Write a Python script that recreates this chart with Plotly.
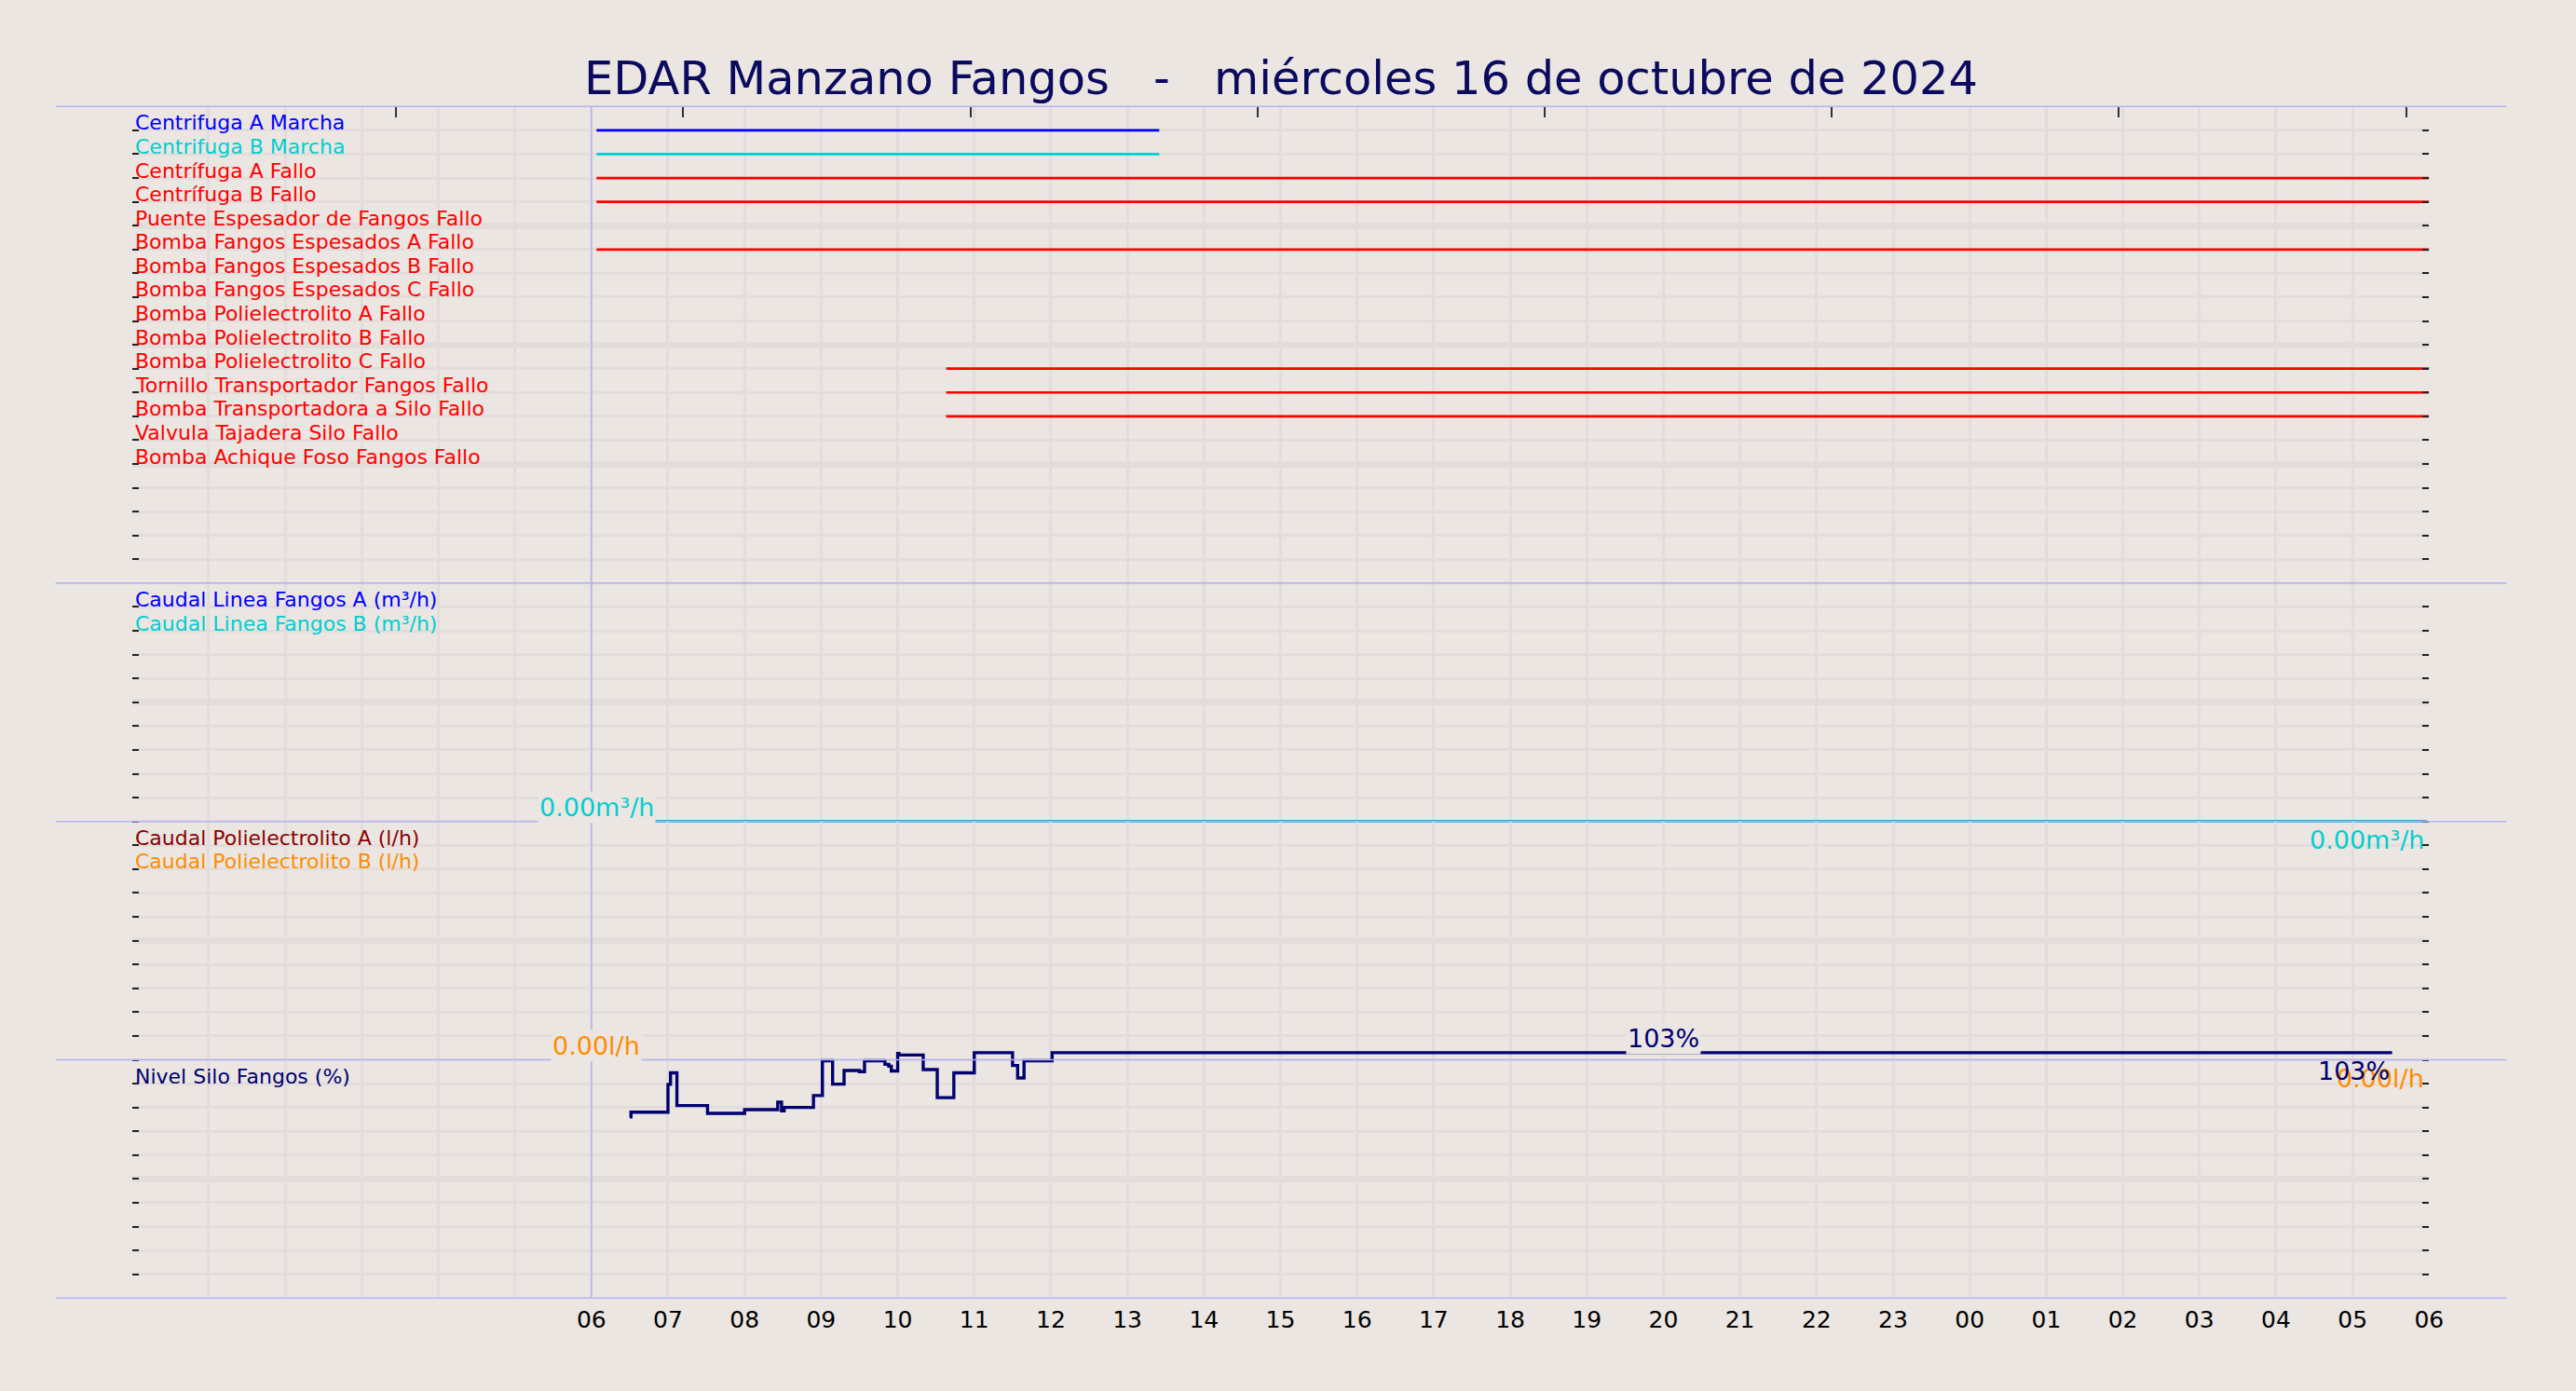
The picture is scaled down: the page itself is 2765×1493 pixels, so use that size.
import pandas as pd
import plotly.graph_objects as go

# ---- data -------------------------------------------------------------
TITLE = "EDAR Manzano Fangos   -   miércoles 16 de octubre de 2024"
DAY = "2024-10-16"
NEXT = "2024-10-17"
T_START = DAY + " 00:00"
T_END = NEXT + " 06:00"

digital_names = [
    "Centrifuga A Marcha", "Centrifuga B Marcha", "Centrífuga A Fallo", "Centrífuga B Fallo",
    "Puente Espesador de Fangos Fallo", "Bomba Fangos Espesados A Fallo",
    "Bomba Fangos Espesados B Fallo", "Bomba Fangos Espesados C Fallo",
    "Bomba Polielectrolito A Fallo", "Bomba Polielectrolito B Fallo",
    "Bomba Polielectrolito C Fallo", "Tornillo Transportador Fangos Fallo",
    "Bomba Transportadora a Silo Fallo", "Valvula Tajadera Silo Fallo",
    "Bomba Achique Foso Fangos Fallo",
]
digital_colors = ["#0000FF", "#00CED1"] + ["#FF0000"] * 13
digital_on = [DAY + " 06:04", DAY + " 06:04", DAY + " 06:04", DAY + " 06:04", None,
              DAY + " 06:04", None, None, None, None,
              DAY + " 10:38", DAY + " 10:38", DAY + " 10:38", None, None]
digital_off = [DAY + " 13:25", DAY + " 13:25", NEXT + " 06:00", NEXT + " 06:00", None,
               NEXT + " 06:00", None, None, None, None,
               NEXT + " 06:00", NEXT + " 06:00", NEXT + " 06:00", None, None]

flow_names = ["Caudal Linea Fangos A (m³/h)", "Caudal Linea Fangos B (m³/h)"]
flow_colors = ["#0000FF", "#00CED1"]
flow_time = [DAY + " 06:04", NEXT + " 05:58"]
flow_a = [0.0, 0.0]
flow_b = [0.0, 0.0]

poly_names = ["Caudal Polielectrolito A (l/h)", "Caudal Polielectrolito B (l/h)"]
poly_colors = ["#8B0000", "#FF8C00"]
poly_time = [DAY + " 06:04", NEXT + " 05:58"]
poly_a = [0.0, 0.0]
poly_b = [0.0, 0.0]

level_name = "Nivel Silo Fangos (%)"
level_color = "#000070"
level_time = [DAY + " " + t for t in [
    "06:30", "06:31", "07:00", "07:02", "07:07", "07:31", "08:00", "08:26", "08:29",
    "08:31", "08:54", "09:01", "09:09", "09:18", "09:30", "09:34", "09:50", "09:53",
    "09:55", "10:00", "10:01", "10:20", "10:31", "10:44", "11:00", "11:30", "11:34",
    "11:39", "12:01", "20:00"]] + [NEXT + " 05:31"]
level_val = [76.0, 78.0, 89.7, 94.5, 80.8, 77.5, 79.1, 82.2, 78.6,
             80.0, 85.0, 99.6, 89.8, 95.5, 95.0, 99.6, 98.1, 97.3,
             95.3, 102.7, 102.0, 95.9, 84.1, 94.5, 103.0, 97.6, 92.4,
             99.6, 103.0, 103.0, 103.0]
level_label_time = DAY + " 20:00"

# ---- look -------------------------------------------------------------
W, H = 2765, 1493
BG = "#EBE6E1"
GRID = "#E2DDDB"
LAV = "#B4B4F4"
TITLE_C = "#0A0A5F"
FONT = "DejaVu Sans"

X0, X1 = 142.5 / W, 2622.5 / W
TOP, UNIT = 114.3, 25.58
edges = [TOP, TOP + 20 * UNIT, TOP + 30 * UNIT, TOP + 40 * UNIT, TOP + 50 * UNIT]


def fy(px):
    return 1 - px / H


hours = pd.date_range(T_START, T_END, freq="h")
hour_text = [h.strftime("%H") if h >= pd.Timestamp(DAY + " 06:00") else "" for h in hours]

fig = go.Figure()

# panel 1: digital signals, one row each
for i, (name, col, t0, t1) in enumerate(zip(digital_names, digital_colors, digital_on, digital_off)):
    if t0 is None:
        continue
    fig.add_trace(go.Scatter(x=[t0, t1], y=[i + 1, i + 1], mode="lines", xaxis="x", yaxis="y",
                             line=dict(color=col, width=2.7), hoverinfo="skip", showlegend=False))

# panel 2 / 3: flows
for ys, col in zip([flow_a, flow_b], flow_colors):
    fig.add_trace(go.Scatter(x=flow_time, y=ys, mode="lines", xaxis="x2", yaxis="y2",
                             line=dict(color=col, width=2.2), hoverinfo="skip", showlegend=False))
for ys, col in zip([poly_a, poly_b], poly_colors):
    fig.add_trace(go.Scatter(x=poly_time, y=ys, mode="lines", xaxis="x3", yaxis="y3",
                             line=dict(color=col, width=2.2), hoverinfo="skip", showlegend=False))

# panel 4: silo level
fig.add_trace(go.Scatter(x=level_time, y=level_val, mode="lines", line_shape="hv",
                         xaxis="x4", yaxis="y4", line=dict(color=level_color, width=3.4),
                         hoverinfo="skip", showlegend=False))

# ---- axes -------------------------------------------------------------
xcommon = dict(type="date", range=[T_START, T_END], domain=[X0, X1], tickvals=hours,
               ticktext=hour_text, showgrid=True, gridcolor=GRID, gridwidth=3, ticks="",
               zeroline=False, showline=False, showticklabels=False)
tick_style = dict(ticks="inside", ticklen=7, tickwidth=2, tickcolor="#222222")


def yax(lo_px, hi_px, rng, majors, minor):
    return dict(domain=[fy(hi_px), fy(lo_px)], range=rng, tickmode="array", tickvals=majors,
                showgrid=True, gridcolor=GRID, gridwidth=7, zeroline=False, showline=False,
                showticklabels=False, mirror="ticks", **tick_style,
                minor=dict(dtick=minor, tick0=0, showgrid=True, gridcolor=GRID, gridwidth=3,
                           **tick_style))


# panel 2, 3 reach a little below their bottom row so the zero lines are not clipped;
# panel 4 reaches above 100 % so the 103 % line shows
PAD2 = 0.25
PAD4 = 5.0
fig.update_layout(
    xaxis=dict(xcommon, anchor="y"),
    xaxis2=dict(xcommon, anchor="y2", matches="x"),
    xaxis3=dict(xcommon, anchor="y3", matches="x"),
    xaxis4=dict(xcommon, anchor="y4", matches="x", showticklabels=True,
                tickfont=dict(size=25, color="#000000"), ticklabelstandoff=6),
    xaxis5=dict(overlaying="x", anchor="y", side="top", range=[0, 8],
                tickvals=[0.92 + k for k in range(8)], ticks="inside", ticklen=12,
                tickwidth=2, tickcolor="#333333", showticklabels=False, showgrid=False,
                zeroline=False),
    yaxis=yax(edges[0], edges[1], [20, 0], [5, 10, 15], 1),
    yaxis2=yax(edges[1], edges[2] + PAD2 * UNIT, [-PAD2, 10], [5], 1),
    yaxis3=yax(edges[2], edges[3] + PAD2 * UNIT, [-PAD2, 10], [5], 1),
    yaxis4=yax(edges[3] - PAD4 / 10 * UNIT, edges[4], [0, 100 + PAD4], [50], 10),
)
fig.add_trace(go.Scatter(x=[], y=[], xaxis="x5", yaxis="y", showlegend=False))

# ---- shapes -----------------------------------------------------------
for e in edges:
    fig.add_shape(type="line", xref="paper", yref="paper", x0=60 / W, x1=2706 / W,
                  y0=fy(e), y1=fy(e), line=dict(color=LAV, width=1.6), layer="above")
fig.add_shape(type="line", xref="x", yref="paper", x0=DAY + " 06:00", x1=DAY + " 06:00",
              y0=fy(edges[4]), y1=fy(edges[0]), line=dict(color=LAV, width=1.6), layer="above")

# ---- annotations ------------------------------------------------------
ann = []
ann.append(dict(text=TITLE.replace(" ", "\u00a0"), xref="paper", yref="paper", x=0.5,
                y=fy(83.7), xanchor="center", yanchor="middle", showarrow=False,
                font=dict(size=49.5, color=TITLE_C)))


def label(text, yref, y, color):
    ann.append(dict(text=text, xref="paper", yref=yref, x=X0 + 1.5 / W, y=y, xanchor="left",
                    yanchor="middle", yshift=8, showarrow=False, font=dict(size=22, color=color)))


for i, (name, col) in enumerate(zip(digital_names, digital_colors)):
    label(name, "y", i + 1, col)
for i, (name, col) in enumerate(zip(flow_names, flow_colors)):
    label(name, "y2", 9 - i, col)
for i, (name, col) in enumerate(zip(poly_names, poly_colors)):
    label(name, "y3", 9 - i, col)
label(level_name, "y4", 90, level_color)


def value_tags(xr, yr, tx, ys, fmt, col, tmax):
    vmax = ys[tx.index(tmax)]
    ann.append(dict(text=fmt.format(vmax), xref=xr, yref=yr, x=tmax, y=vmax, xanchor="center",
                    yanchor="middle", yshift=15, showarrow=False, bgcolor=BG, borderpad=1,
                    font=dict(size=27, color=col)))
    ann.append(dict(text=fmt.format(ys[-1]), xref=xr, yref=yr, x=tx[-1], y=ys[-1],
                    xanchor="right", yanchor="middle", yshift=-20, xshift=-1, showarrow=False,
                    font=dict(size=27, color=col)))


value_tags("x2", "y2", flow_time, flow_b, "{:.2f}m³/h", flow_colors[1], flow_time[0])
value_tags("x3", "y3", poly_time, poly_b, "{:.2f}l/h", poly_colors[1], poly_time[0])
value_tags("x4", "y4", level_time, level_val, "{:.0f}%", level_color, level_label_time)

fig.update_layout(
    width=W, height=H, autosize=False, margin=dict(l=0, r=0, t=0, b=0),
    paper_bgcolor=BG, plot_bgcolor="rgba(0,0,0,0)",
    font=dict(family=FONT, color="#000000"),
    annotations=ann, showlegend=False,
)
page_fix = ("document.documentElement.style.margin='0';document.body.style.margin='0';"
            "document.documentElement.style.overflow='hidden';document.body.style.overflow='hidden';")
fig.write_html("out.html", config={"displayModeBar": False, "responsive": False},
               post_script=page_fix)
